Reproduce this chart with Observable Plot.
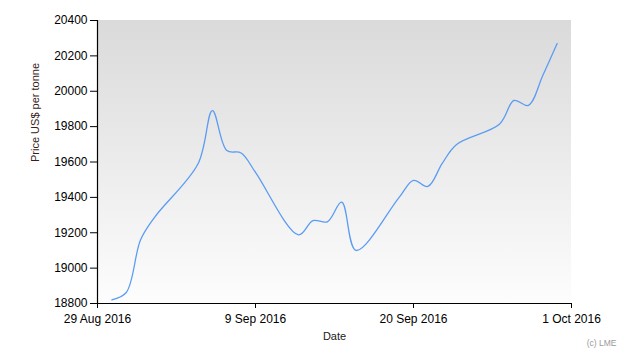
<!DOCTYPE html>
<html>
<head>
<meta charset="utf-8">
<script src="https://cdn.jsdelivr.net/npm/d3@7"></script>
<script src="https://cdn.jsdelivr.net/npm/@observablehq/plot@0.6"></script>
<style>
  html, body { margin: 0; padding: 0; background: #fff; }
  svg { font-family: "Liberation Sans", Arial, sans-serif; }
</style>
</head>
<body>
<div id="chart"></div>
<script>
const dates = [
  "2016-08-30", "2016-08-31", "2016-09-01", "2016-09-02",
  "2016-09-05", "2016-09-06", "2016-09-07", "2016-09-08", "2016-09-09",
  "2016-09-12", "2016-09-13", "2016-09-14", "2016-09-15", "2016-09-16",
  "2016-09-19", "2016-09-20", "2016-09-21", "2016-09-22", "2016-09-23",
  "2016-09-26", "2016-09-27", "2016-09-28", "2016-09-29", "2016-09-30"
];
const prices = [
  18821, 18862, 19160, 19290,
  19590, 19891, 19665, 19651, 19541,
  19188, 19269, 19262, 19373, 19100,
  19400, 19496, 19462, 19592, 19699,
  19815, 19948, 19920, 20089, 20270
];
const yTicks = [18800, 19000, 19200, 19400, 19600, 19800, 20000, 20200, 20400];
const xTicks = ["2016-08-29", "2016-09-09", "2016-09-20", "2016-10-01"];
const xDomain = ["2016-08-29", "2016-10-01"];
const yDomain = [18800, 20400];

const parse = d3.utcParse("%Y-%m-%d");
const data = dates.map((d, i) => ({date: parse(d), price: prices[i]}));

function background(index, scales, values, dimensions, context) {
  const {width, height, marginLeft, marginRight, marginTop, marginBottom} = dimensions;
  const ns = "http://www.w3.org/2000/svg";
  const g = context.document.createElementNS(ns, "g");
  g.innerHTML =
    `<defs><linearGradient id="bggrad" x1="0" y1="0" x2="0" y2="1">` +
    `<stop offset="0" stop-color="#dadada"/><stop offset="1" stop-color="#fdfdfd"/>` +
    `</linearGradient></defs>` +
    `<rect x="${marginLeft}" y="${marginTop}" width="${width - marginLeft - marginRight}" height="${height - marginTop - marginBottom}" fill="url(#bggrad)"/>`;
  return g;
}

const chart = Plot.plot({
  width: 630,
  height: 360,
  marginLeft: 97,
  marginRight: 59,
  marginTop: 20,
  marginBottom: 57,
  style: {fontFamily: "'Liberation Sans', Arial, sans-serif", fontSize: "12px", color: "#000", background: "#fff"},
  x: {type: "utc", domain: xDomain.map(parse), label: null},
  y: {domain: yDomain, label: null},
  marks: [
    background,
    Plot.line(data, {x: "date", y: "price", stroke: "#5b9cf2", strokeWidth: 1.3, curve: "catmull-rom"}),
    Plot.axisY(yTicks, {tickSize: 7, tickPadding: 3, tickFormat: d => String(d), fontSize: 12, stroke: "#000", color: "#000"}),
    Plot.axisX(xTicks.map(parse), {tickSize: 5, tickPadding: 6, tickFormat: d3.utcFormat("%-d %b %Y"), fontSize: 12}),
    Plot.ruleY([yDomain[0]], {stroke: "#000", strokeWidth: 1.2}),
    Plot.ruleX([parse(xDomain[0])], {stroke: "#000", strokeWidth: 1.2}),
    Plot.text(["Price US$ per tonne"], {frameAnchor: "left", rotate: -90, dx: -62, text: d => d, fontSize: 11, fill: "#3a1c1c"}),
    Plot.text(["Date"], {frameAnchor: "bottom", dy: 36, text: d => d, fontSize: 11, fill: "#1a1a1a"}),
    Plot.text(["(c) LME"], {frameAnchor: "bottom-right", dx: 45, dy: 42, text: d => d, fontSize: 8.5, fill: "#9a9a9a"})
  ]
});
document.getElementById("chart").appendChild(chart);
</script>
</body>
</html>
